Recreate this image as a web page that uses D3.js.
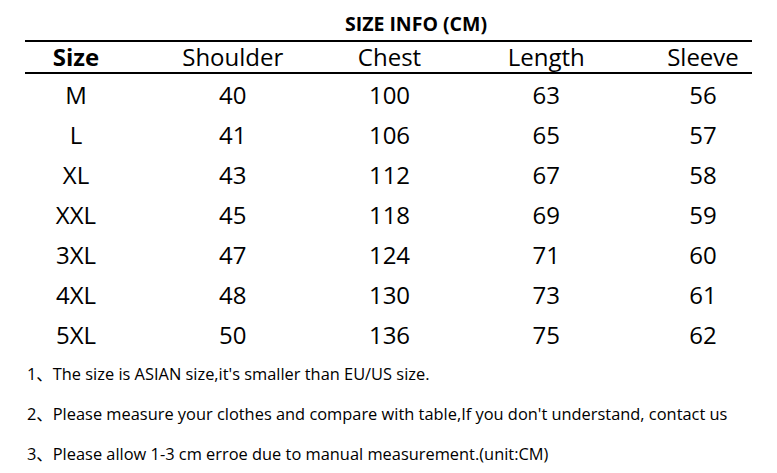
<!DOCTYPE html>
<html>
<head>
<meta charset="utf-8">
<script src="https://cdn.jsdelivr.net/npm/d3@7"></script>
<style>
  body { margin: 0; background: #fff; }
  svg text { font-family: "Open Sans", "Noto Sans CJK SC", sans-serif; fill: #000; }
</style>
</head>
<body>
<div id="chart"></div>
<script>
// table data
const title = "SIZE INFO (CM)";
const columns = ["Size", "Shoulder", "Chest", "Length", "Sleeve"];
const sizes = ["M", "L", "XL", "XXL", "3XL", "4XL", "5XL"];
const shoulder = [40, 41, 43, 45, 47, 48, 50];
const chest = [100, 106, 112, 118, 124, 130, 136];
const length = [63, 65, 67, 69, 71, 73, 75];
const sleeve = [56, 57, 58, 59, 60, 61, 62];
const notes = [
    "1、The size is ASIAN size,it's smaller than EU/US size.",
    "2、Please measure your clothes and compare with table,If you don't understand, contact us",
    "3、Please allow 1-3 cm erroe due to manual measurement.(unit:CM)"
];

const width = 777, height = 473;

const svg = d3.select("#chart").append("svg")
    .attr("width", width)
    .attr("height", height);

// column and row positions
const x = d3.scalePoint()
    .domain(columns)
    .range([76, 703]);

const y = d3.scalePoint()
    .domain(sizes)
    .range([95, 335]);

// build rows from the arrays
const rows = sizes.map((s, i) => [s, shoulder[i], chest[i], length[i], sleeve[i]]);

// title
svg.append("text")
    .attr("x", 416)
    .attr("y", 31)
    .attr("text-anchor", "middle")
    .attr("font-size", 19.5)
    .attr("font-weight", "bold")
    .text(title);

// header rules
svg.selectAll(".rule")
    .data([41, 73])
    .join("line")
    .attr("class", "rule")
    .attr("x1", 25)
    .attr("x2", 752)
    .attr("y1", d => d)
    .attr("y2", d => d)
    .attr("stroke", "#000")
    .attr("stroke-width", 2);

// header
svg.selectAll(".head")
    .data(columns)
    .join("text")
    .attr("class", "head")
    .attr("x", d => x(d))
    .attr("y", 66)
    .attr("text-anchor", "middle")
    .attr("font-size", 24)
    .attr("font-weight", (d, i) => i === 0 ? "bold" : "normal")
    .text(d => d);

// body cells
const rowG = svg.selectAll(".row")
    .data(rows)
    .join("g")
    .attr("class", "row")
    .attr("transform", (d, i) => `translate(0, ${y(sizes[i])})`);

rowG.selectAll("text")
    .data(d => d)
    .join("text")
    .attr("x", (d, i) => x(columns[i]))
    .attr("y", 8.5)
    .attr("text-anchor", "middle")
    .attr("font-size", 24)
    .text(d => d);

// notes under table
svg.selectAll(".note")
    .data(notes)
    .join("text")
    .attr("class", "note")
    .attr("x", 27)
    .attr("y", (d, i) => 380 + i * 40)
    .attr("font-size", 16.4)
    .text(d => d);
</script>
</body>
</html>
